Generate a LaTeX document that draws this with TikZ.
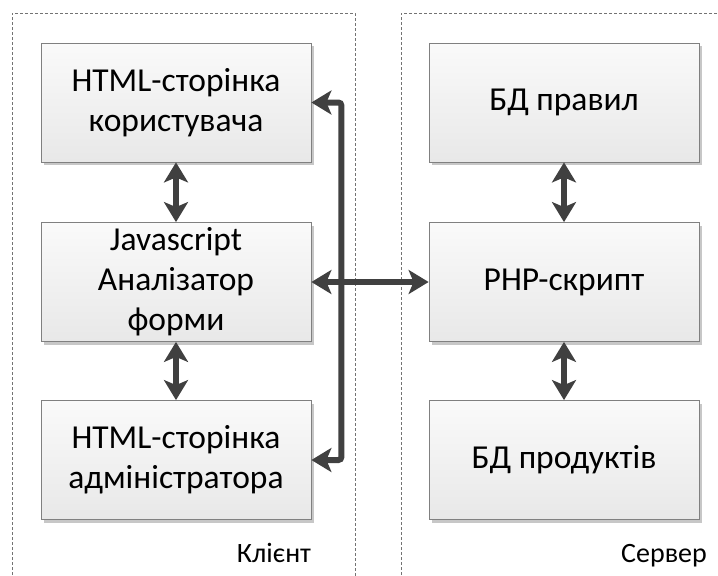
\documentclass[tikz,border=0pt]{standalone}
\usepackage{fontspec}
\setmainfont{Carlito}
\usetikzlibrary{arrows.meta,shadows}
\begin{document}
\begin{tikzpicture}[x=1pt,y=-1pt,
  box/.style={draw=black!50, line width=0.8pt, top color=black!2, bottom color=black!9,
    minimum width=270pt, minimum height=119pt, align=center, inner sep=0pt,
    font=\fontsize{33.5}{40}\selectfont,
    drop shadow={shadow xshift=3pt, shadow yshift=-3pt, fill=black!22, opacity=1}},
  frame/.style={draw=black!55, dash pattern=on 3pt off 2pt, line width=0.7pt},
  conn/.style={draw=black!75, line width=6pt,
    {Stealth[length=20pt,width=24pt,inset=5pt]}-{Stealth[length=20pt,width=24pt,inset=5pt]}},
  lbl/.style={font=\fontsize{28}{33}\selectfont, anchor=base}
]
\useasboundingbox (0,0) rectangle (718,576);
\draw[frame] (12,580) -- (12,13) -- (355,13) -- (355,580);
\draw[frame] (401,580) -- (401,13) -- (722,13);

\node[box] (b1) at (176,102.5) {HTML-сторінка\\користувача};
\node[box] (b2) at (176,282) {Javascript\\Аналізатор\\форми};
\node[box] (b3) at (176,460) {HTML-сторінка\\адміністратора};
\node[box] (r1) at (564,102.5) {БД правил};
\node[box] (r2) at (564,282) {PHP-скрипт};
\node[box] (r3) at (564,460) {БД продуктів};

\draw[conn] (b1.south) -- (b2.north);
\draw[conn] (b2.south) -- (b3.north);
\draw[conn] (r1.south) -- (r2.north);
\draw[conn] (r2.south) -- (r3.north);
\draw[conn, rounded corners=3pt] (b1.east) -- ++(30,0) |- (b3.east);
\draw[conn] (b2.east) -- (r2.west);

\node[lbl] (client) at (274,562) {Клієнт};
\node[lbl] (server) at (664,562) {Сервер};
\end{tikzpicture}
\end{document}
